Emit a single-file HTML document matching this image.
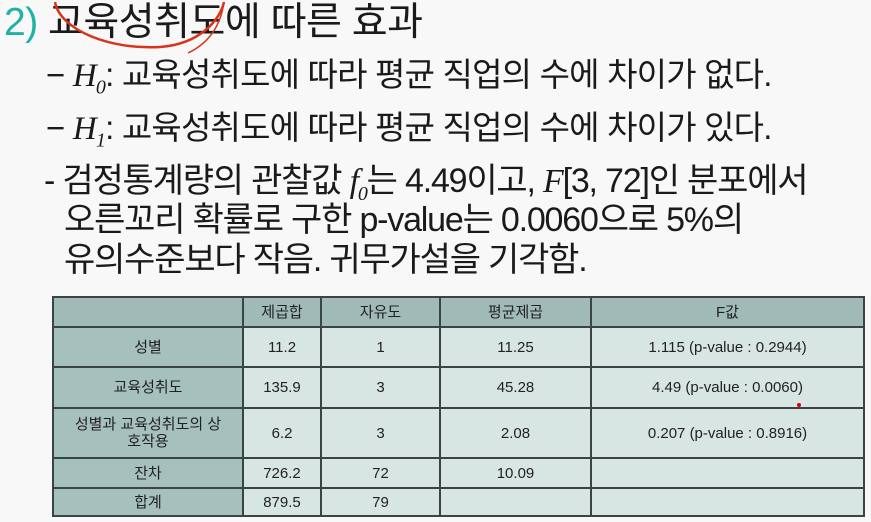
<!DOCTYPE html>
<html><head><meta charset="utf-8">
<style>
html,body{margin:0;padding:0}
body{width:871px;height:522px;background:#f7f8f7;position:relative;overflow:hidden;font-family:"Liberation Sans","Noto Sans CJK KR",sans-serif;color:#1a1a1a}
.t{position:absolute;white-space:nowrap;line-height:1}
.m{font-family:"Liberation Serif",serif;font-style:italic}
table{position:absolute;left:52px;top:296px;border-collapse:collapse;font-size:15px;color:#222}
td{border:2px solid #3a4444;text-align:center;padding:0;line-height:17px}
.h{background:#9fbab7}
.c{background:#a5c0bd}
.d{background:#d7e5e3}
</style></head><body>
<div class="t" style="left:4px;top:3px;font-size:39px;letter-spacing:-0.5px"><span style="color:#1cb3a6">2)</span> 교육성취도에 따른 효과</div>
<svg style="position:absolute;left:0;top:0" width="871" height="80"><path d="M55 2 C60 30,110 50,160 47 C200 44,220 20,224 2" stroke="#d8341c" stroke-width="2.5" fill="none"/><path d="M224 2 C220 30,205 45,188 53" stroke="#d8341c" stroke-width="1.5" fill="none"/></svg>
<div class="t" style="left:46px;top:58px;font-size:33px;letter-spacing:-0.8px">− <span class="m">H</span><sub class="m" style="font-size:20px">0</sub>: 교육성취도에 따라 평균 직업의 수에 차이가 없다.</div>
<div class="t" style="left:46px;top:111px;font-size:33px;letter-spacing:-0.8px">− <span class="m">H</span><sub class="m" style="font-size:20px">1</sub>: 교육성취도에 따라 평균 직업의 수에 차이가 있다.</div>
<div class="t" style="left:44px;top:164px;font-size:34px;letter-spacing:-1.2px">- 검정통계량의 관찰값 <span class="m">f</span><sub class="m" style="font-size:20px">0</sub>는 4.49이고, <span class="m">F</span>[3, 72]인 분포에서</div>
<div class="t" style="left:64px;top:203px;font-size:34px;letter-spacing:-1.2px">오른꼬리 확률로 구한 p-value는 0.0060으로 5%의</div>
<div class="t" style="left:64px;top:243px;font-size:34px;letter-spacing:-1.2px">유의수준보다 작음. 귀무가설을 기각함.</div>
<table>
<tr style="height:30px"><td class="h" style="width:188px"></td><td class="h" style="width:76px">제곱합</td><td class="h" style="width:117px">자유도</td><td class="h" style="width:149px">평균제곱</td><td class="h" style="width:271px">F값</td></tr>
<tr style="height:40px"><td class="c">성별</td><td class="d">11.2</td><td class="d">1</td><td class="d">11.25</td><td class="d">1.115 (p-value : 0.2944)</td></tr>
<tr style="height:41px"><td class="c">교육성취도</td><td class="d">135.9</td><td class="d">3</td><td class="d">45.28</td><td class="d">4.49 (p-value : 0.0060)</td></tr>
<tr style="height:50px"><td class="c">성별과 교육성취도의 상<br>호작용</td><td class="d">6.2</td><td class="d">3</td><td class="d">2.08</td><td class="d">0.207 (p-value : 0.8916)</td></tr>
<tr style="height:30px"><td class="c">잔차</td><td class="d">726.2</td><td class="d">72</td><td class="d">10.09</td><td class="d"></td></tr>
<tr style="height:28px"><td class="c">합계</td><td class="d">879.5</td><td class="d">79</td><td class="d"></td><td class="d"></td></tr>
</table>
<div style="position:absolute;left:797px;top:403px;width:4px;height:4px;border-radius:50%;background:#d00"></div>
</body></html>
